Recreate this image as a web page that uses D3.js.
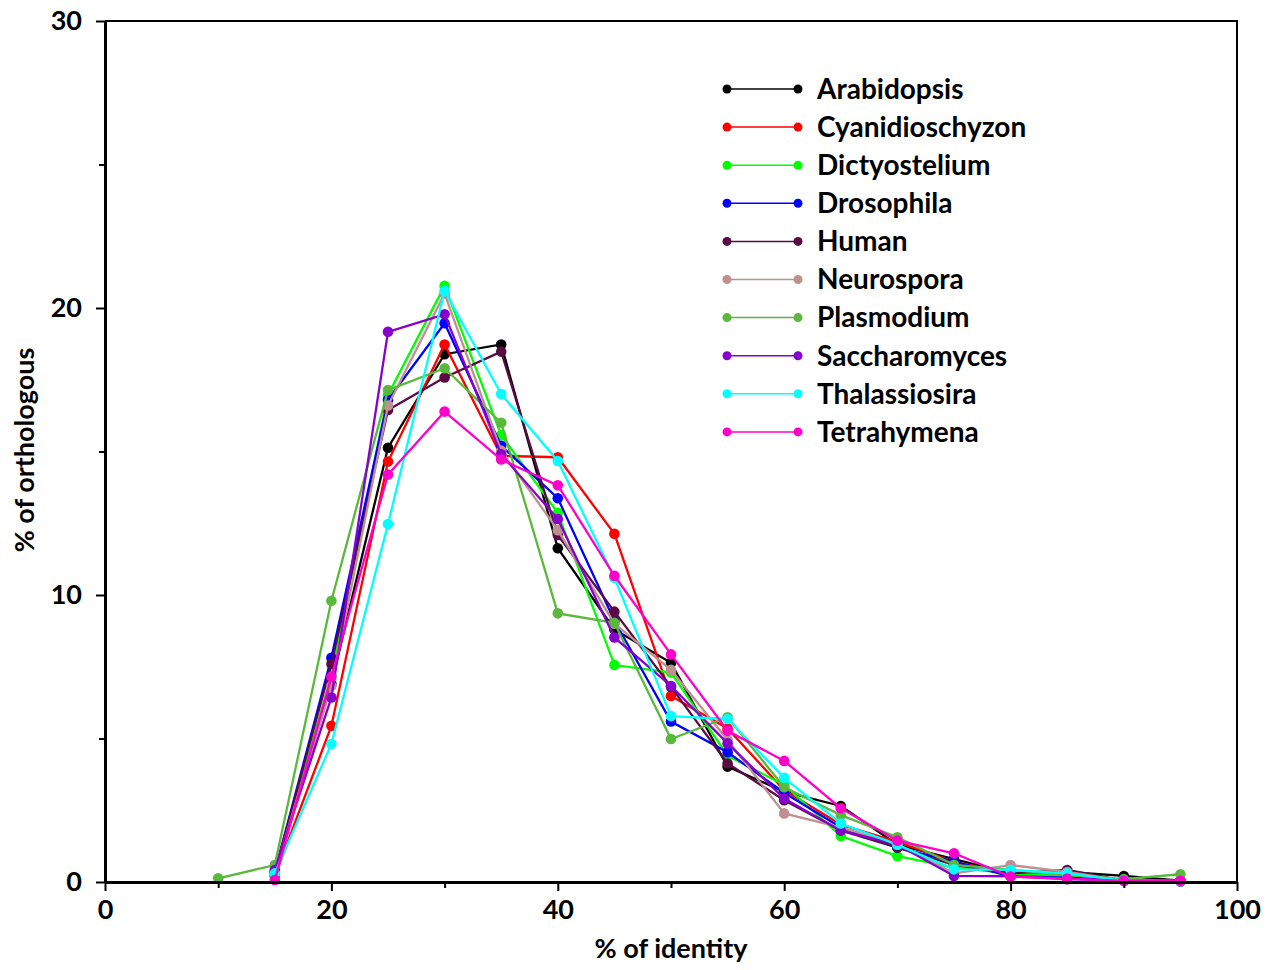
<!DOCTYPE html>
<html>
<head>
<meta charset="utf-8">
<script src="https://cdn.jsdelivr.net/npm/d3@7"></script>
<style>
  html, body { margin: 0; padding: 0; background: #fff; }
  svg text { font-family: Lato, "Open Sans", "DejaVu Sans", sans-serif; font-weight: 700; fill: #000; }
</style>
</head>
<body>
<svg id="chart" width="1274" height="970"></svg>
<script>
// Identity bins (% of identity)
const identity = [15, 20, 25, 30, 35, 40, 45, 50, 55, 60, 65, 70, 75, 80, 85, 90, 95];

// Percentage of orthologous pairs per identity bin, one array per organism
const arabidopsis    = [0.30, 6.90, 15.13, 18.39, 18.73, 11.63, 8.80, 7.64, 4.02, 3.15, 2.65, 1.30, 0.80, 0.30, 0.35, 0.21, 0.05];
const cyanidioschyzon = [0.20, 5.44, 14.65, 18.73, 14.85, 14.80, 12.13, 6.48, 5.35, 3.20, 2.00, 1.40, 0.70, 0.30, 0.20, 0.05, 0.03];
const dictyostelium  = [0.30, 7.20, 16.97, 20.77, 15.57, 12.86, 7.56, 7.30, 4.40, 3.38, 1.60, 0.90, 0.50, 0.30, 0.20, 0.05, 0.05];
const drosophila     = [0.35, 7.81, 16.80, 19.47, 15.20, 13.37, 9.10, 5.59, 4.52, 3.11, 1.90, 1.20, 0.71, 0.20, 0.15, 0.05, 0.03];
const human          = [0.35, 7.60, 16.45, 17.58, 18.48, 12.09, 9.42, 6.80, 4.13, 2.85, 1.80, 1.20, 0.60, 0.30, 0.42, 0.05, 0.03];
const neurospora     = [0.35, 6.83, 16.60, 20.50, 15.03, 12.26, 9.00, 7.39, 4.95, 2.39, 1.90, 1.30, 0.30, 0.59, 0.35, 0.05, 0.03];
const plasmodiumX    = [10, 15, 20, 25, 30, 35, 40, 45, 50, 55, 60, 65, 70, 75, 80, 85, 90, 95];
const plasmodium     = [0.13, 0.59, 9.80, 17.14, 17.90, 16.00, 9.36, 9.03, 4.98, 5.74, 3.30, 2.33, 1.56, 0.60, 0.42, 0.25, 0.10, 0.27];
const saccharomyces  = [0.42, 6.43, 19.17, 19.78, 14.90, 12.65, 8.52, 6.83, 4.83, 2.91, 1.79, 1.30, 0.21, 0.20, 0.10, 0.05, 0.03];
const thalassiosira  = [0.30, 4.81, 12.47, 20.60, 17.00, 14.67, 10.60, 5.78, 5.68, 3.63, 2.04, 1.30, 0.44, 0.42, 0.30, 0.05, 0.03];
const tetrahymena    = [0.07, 7.15, 14.20, 16.39, 14.72, 13.82, 10.67, 7.93, 5.27, 4.22, 2.57, 1.44, 1.00, 0.19, 0.12, 0.04, 0.04];

const seriesNames  = ["Arabidopsis", "Cyanidioschyzon", "Dictyostelium", "Drosophila", "Human",
                      "Neurospora", "Plasmodium", "Saccharomyces", "Thalassiosira", "Tetrahymena"];
const seriesColors = ["#000000", "#ff0000", "#00ff00", "#0000ff", "#5a0a44",
                      "#c09090", "#5ab93c", "#8800cc", "#00ffff", "#ff00cc"];

const xTicksMajor = [0, 20, 40, 60, 80, 100];
const xTicksMinor = [10, 30, 50, 70, 90];
const yTicksMajor = [0, 10, 20, 30];
const yTicksMinor = [5, 15, 25];

const series = [
  { x: identity,    y: arabidopsis },
  { x: identity,    y: cyanidioschyzon },
  { x: identity,    y: dictyostelium },
  { x: identity,    y: drosophila },
  { x: identity,    y: human },
  { x: identity,    y: neurospora },
  { x: plasmodiumX, y: plasmodium },
  { x: identity,    y: saccharomyces },
  { x: identity,    y: thalassiosira },
  { x: identity,    y: tetrahymena }
].map((s, i) => ({
  name: seriesNames[i],
  color: seriesColors[i],
  points: s.x.map((v, j) => ({ x: v, y: s.y[j] }))
}));

const svg = d3.select("#chart");
const plot = { left: 105, right: 1237, top: 21, bottom: 882 };

const x = d3.scaleLinear().domain([0, 100]).range([plot.left, plot.right]);
const y = d3.scaleLinear().domain([0, 30]).range([plot.bottom, plot.top]);

// Frame: top and right edges
svg.append("path")
  .attr("d", `M${plot.left},${plot.top}H${plot.right}V${plot.bottom}`)
  .attr("fill", "none").attr("stroke", "#000").attr("stroke-width", 2);

// Series lines and markers
const line = d3.line().x(d => x(d.x)).y(d => y(d.y));
const gSeries = svg.append("g");
series.forEach(s => {
  const g = gSeries.append("g");
  g.append("path")
    .datum(s.points)
    .attr("d", line)
    .attr("fill", "none")
    .attr("stroke", s.color)
    .attr("stroke-width", 2.3);
  g.selectAll("circle")
    .data(s.points)
    .join("circle")
    .attr("cx", d => x(d.x))
    .attr("cy", d => y(d.y))
    .attr("r", 5.3)
    .attr("fill", s.color);
});

// Axes
const xAxis = svg.append("g").attr("transform", `translate(0,${plot.bottom})`)
  .call(d3.axisBottom(x).tickValues(xTicksMajor).tickSize(9).tickSizeOuter(0).tickPadding(8));
svg.append("g").attr("transform", `translate(0,${plot.bottom})`)
  .call(d3.axisBottom(x).tickValues(xTicksMinor).tickSize(6).tickSizeOuter(0).tickFormat(""))
  .call(g => g.select(".domain").remove());
const yAxis = svg.append("g").attr("transform", `translate(${plot.left},0)`)
  .call(d3.axisLeft(y).tickValues(yTicksMajor).tickSize(9).tickSizeOuter(0).tickPadding(14));
svg.append("g").attr("transform", `translate(${plot.left},0)`)
  .call(d3.axisLeft(y).tickValues(yTicksMinor).tickSize(6).tickSizeOuter(0).tickFormat(""))
  .call(g => g.select(".domain").remove());

svg.selectAll(".domain").attr("stroke-width", 3);
svg.selectAll(".tick line").attr("stroke-width", 2);
xAxis.selectAll("text").attr("font-size", 27).attr("dy", "0.75em");
yAxis.selectAll("text").attr("font-size", 27).attr("font-weight", 900);

// Axis titles
svg.append("text")
  .attr("x", (plot.left + plot.right) / 2).attr("y", 958)
  .attr("text-anchor", "middle").attr("font-size", 27)
  .text("% of identity");
svg.append("text")
  .attr("transform", "translate(34,450) rotate(-90)")
  .attr("text-anchor", "middle").attr("font-size", 27)
  .text("% of orthologous");

// Legend
const legend = svg.append("g");
series.forEach((s, i) => {
  const ly = 89 + i * 38.1;
  const g = legend.append("g");
  g.append("line").attr("x1", 727).attr("x2", 798).attr("y1", ly).attr("y2", ly)
    .attr("stroke", s.color).attr("stroke-width", 1.5);
  g.append("circle").attr("cx", 727).attr("cy", ly).attr("r", 4.5).attr("fill", s.color);
  g.append("circle").attr("cx", 798).attr("cy", ly).attr("r", 4.5).attr("fill", s.color);
  g.append("text").attr("x", 817).attr("y", ly).attr("dy", "0.35em")
    .attr("font-size", 28).text(s.name);
});
</script>
</body>
</html>
